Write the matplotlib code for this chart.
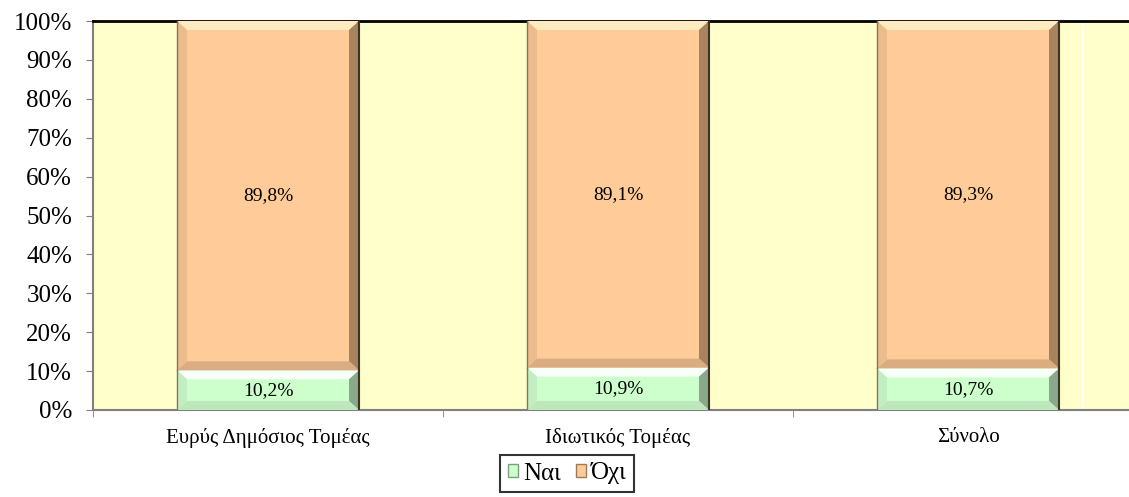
import numpy as np
import matplotlib.pyplot as plt
from matplotlib.patches import Polygon, Patch

categories = ['Ευρύς Δημόσιος Τομέας', 'Ιδιωτικός Τομέας', 'Σύνολο']
nai = [10.2, 10.9, 10.7]
oxi = [89.8, 89.1, 89.3]
series_names = ['Ναι', 'Όχι']

plt.rcParams['font.family'] = ['Liberation Serif', 'DejaVu Serif']

fig = plt.figure(figsize=(11.29, 4.97), dpi=100)
ax = fig.add_axes([93 / 1129, 1 - 410 / 497, 1050 / 1129, 389 / 497])
ax.set_facecolor('#FFFFCC')

x = np.arange(len(categories))
width = 0.52
green = '#CCFFCC'
orange = '#FFCC99'

b1 = ax.bar(x, nai, width, color=green, edgecolor='none', zorder=2)
b2 = ax.bar(x, oxi, width, bottom=nai, color=orange, edgecolor='none', zorder=2)

# bevel edges like the Excel style
bx = 10 / 350
by = 9 / 389 * 100


def bevel(rect, light, dark, bottom, left):
    x0, y0 = rect.get_x(), rect.get_y()
    w, h = rect.get_width(), rect.get_height()
    x1, y1 = x0 + w, y0 + h
    dy = min(by, h / 3)
    dx = bx
    ix0, ix1, iy0, iy1 = x0 + dx, x1 - dx, y0 + dy, y1 - dy
    ax.add_patch(Polygon([[x0, y1], [x1, y1], [ix1, iy1], [ix0, iy1]],
                         color=light, zorder=3, lw=0))
    ax.add_patch(Polygon([[x1, y1], [x1, y0], [ix1, iy0], [ix1, iy1]],
                         color=dark, zorder=3, lw=0))
    ax.add_patch(Polygon([[x0, y0], [x1, y0], [ix1, iy0], [ix0, iy0]],
                         color=bottom, zorder=3, lw=0))
    ax.add_patch(Polygon([[x0, y0], [x0, y1], [ix0, iy1], [ix0, iy0]],
                         color=left, zorder=3, lw=0))
    ax.plot([x0, x0], [y0, y1], color='#8A7260', lw=1, zorder=4)
    ax.plot([x1, x1], [y0, y1], color='#3E3226', lw=1.5, zorder=4)


for r in b1:
    bevel(r, '#F8FFF8', '#8AA88A', '#BCE8BC', '#C2EEC2')
for r in b2:
    bevel(r, '#FFEBC0', '#A8835F', '#D9AC82', '#EDBC8C')

for i in range(len(categories)):
    ax.text(x[i], nai[i] / 2, f'{nai[i]:.1f}%'.replace('.', ','),
            ha='center', va='center', fontsize=14, zorder=5)
    ax.text(x[i], nai[i] + oxi[i] / 2, f'{oxi[i]:.1f}%'.replace('.', ','),
            ha='center', va='center', fontsize=14, zorder=5)

ax.axvline(2.329, color='white', lw=1.2, zorder=1)

ax.set_xlim(-0.5, 2.5)
ax.set_ylim(0, 100)
ax.set_yticks(np.arange(0, 101, 10))
ax.set_yticklabels([f'{v}%' for v in range(0, 101, 10)], fontsize=18)
ax.set_xticks(x)
ax.set_xticklabels(categories, fontsize=15)
ax.set_xticks([-0.5, 0.5, 1.5], minor=True)
ax.tick_params(axis='x', which='major', length=0, pad=13)
ax.tick_params(axis='x', which='minor', length=5, color='#808080')
ax.tick_params(axis='y', length=5, color='#808080', pad=10)

for s in ['left', 'bottom']:
    ax.spines[s].set_color('#808080')
    ax.spines[s].set_linewidth(1.5)
ax.spines['top'].set_color('black')
ax.spines['top'].set_linewidth(2)
ax.spines['right'].set_visible(False)

handles = [Patch(facecolor=green, edgecolor='#7E9C7E'),
           Patch(facecolor=orange, edgecolor='#9C7A58')]
leg = fig.legend(handles, series_names, loc='upper center',
                 bbox_to_anchor=(567 / 1129, 1 - 455 / 497), ncol=2,
                 fontsize=18, frameon=True, fancybox=False,
                 handlelength=0.4, handleheight=0.4, handletextpad=0.2,
                 columnspacing=0.6, borderpad=0.3, borderaxespad=0)
leg.get_frame().set_edgecolor('black')
leg.get_frame().set_linewidth(1.5)

fig.savefig('out.png', dpi=100)
